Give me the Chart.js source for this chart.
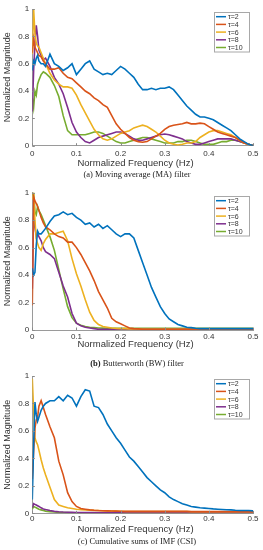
<!DOCTYPE html>
<html>
<head>
<meta charset="utf-8">
<script src="https://cdn.jsdelivr.net/npm/chart.js@4.4.0/dist/chart.umd.min.js"></script>
<style>
    body { margin: 0; background: #fff; width: 263px; height: 550px; position: relative; overflow: hidden; }
    canvas { position: absolute; left: 0; }
    .cap { position: absolute; left: 0; width: 274px; text-align: center; line-height: 10px;
           font-family: "Liberation Serif", "Times New Roman", serif; font-size: 8.5px; color: #222; }
</style>
</head>
<body>
<canvas id="chartMA" width="263" height="170" style="top:0px"></canvas>
<div class="cap" id="capMA" style="top:169px"></div>
<canvas id="chartBW" width="263" height="170" style="top:180px"></canvas>
<div class="cap" id="capBW" style="top:357.7px"></div>
<canvas id="chartCS" width="263" height="170" style="top:365px"></canvas>
<div class="cap" id="capCS" style="top:535.7px"></div>
<script>
"use strict";

/* normalized frequency (Hz), shared by every curve */
var freq = [0, 0.003, 0.006, 0.009, 0.012, 0.015, 0.02, 0.025,
    0.03, 0.04, 0.05, 0.06, 0.07, 0.08, 0.09, 0.1, 0.11, 0.12, 0.13, 0.14, 0.15, 0.16,
    0.17, 0.18, 0.19, 0.2, 0.21, 0.22, 0.23, 0.24, 0.25, 0.26, 0.27, 0.28, 0.29, 0.3,
    0.31, 0.32, 0.33, 0.34, 0.35, 0.36, 0.37, 0.38, 0.39, 0.4, 0.41, 0.42, 0.43, 0.44,
    0.45, 0.46, 0.47, 0.48, 0.49, 0.5];

var tauLabels = ['τ=2', 'τ=4', 'τ=6', 'τ=8', 'τ=10'];
var captionTags = ['(a)', '(b)', '(c)'];
var captions = ['Moving average (MA) filter', 'Butterworth (BW) filter', 'Cumulative sums of IMF (CSI)'];
var xTitle = 'Normalized Frequency (Hz)';
var yTitle = 'Normalized Magnitude';

/* (a) moving average */
var maT2 = [0.55, 0.62, 0.6, 0.64, 0.66, 0.62, 0.6, 0.6,
    0.58, 0.67, 0.6, 0.58, 0.55, 0.57, 0.6, 0.52, 0.56, 0.6, 0.62, 0.56, 0.54, 0.52, 0.53, 0.52,
    0.55, 0.58, 0.56, 0.53, 0.5, 0.45, 0.41, 0.41, 0.42, 0.41, 0.42, 0.42, 0.43, 0.41, 0.37, 0.33,
    0.29, 0.26, 0.23, 0.21, 0.21, 0.2, 0.19, 0.17, 0.15, 0.13, 0.11, 0.08, 0.05, 0.03, 0.01, 0];
var maT4 = [0.68, 0.78, 0.72, 0.7, 0.68, 0.66, 0.65, 0.62,
    0.6, 0.56, 0.56, 0.57, 0.53, 0.5, 0.49, 0.46, 0.43, 0.4, 0.38, 0.35, 0.33, 0.3, 0.28, 0.22,
    0.16, 0.12, 0.09, 0.06, 0.04, 0.03, 0.025, 0.03, 0.05, 0.07, 0.09, 0.12, 0.14, 0.15, 0.155, 0.16,
    0.17, 0.16, 0.16, 0.165, 0.16, 0.14, 0.12, 0.1, 0.09, 0.08, 0.07, 0.06, 0.04, 0.02, 0.01, 0];
var maT6 = [0.67, 1.0, 0.82, 0.75, 0.73, 0.72, 0.68, 0.64,
    0.6, 0.53, 0.48, 0.45, 0.43, 0.43, 0.42, 0.37, 0.3, 0.24, 0.18, 0.12, 0.08, 0.05, 0.04, 0.05,
    0.07, 0.09, 0.1, 0.11, 0.13, 0.14, 0.15, 0.14, 0.12, 0.1, 0.07, 0.04, 0.02, 0.01, 0.005, 0.01,
    0.02, 0.02, 0.03, 0.06, 0.08, 0.1, 0.11, 0.11, 0.1, 0.09, 0.08, 0.06, 0.04, 0.02, 0.01, 0];
var maT8 = [0.25, 0.55, 0.75, 0.88, 0.8, 0.7, 0.66, 0.63,
    0.64, 0.58, 0.5, 0.45, 0.38, 0.28, 0.17, 0.1, 0.06, 0.03, 0.02, 0.04, 0.06, 0.07, 0.08, 0.09,
    0.1, 0.1, 0.09, 0.07, 0.05, 0.04, 0.04, 0.05, 0.06, 0.07, 0.08, 0.085, 0.08, 0.07, 0.06, 0.05,
    0.03, 0.02, 0.01, 0.01, 0.02, 0.03, 0.04, 0.05, 0.05, 0.05, 0.05, 0.04, 0.03, 0.02, 0.01, 0];
var maT10 = [0.35, 0.28, 0.4, 0.37, 0.45, 0.48, 0.52, 0.54,
    0.53, 0.5, 0.44, 0.36, 0.22, 0.11, 0.08, 0.08, 0.08, 0.08, 0.09, 0.1, 0.1, 0.09, 0.07, 0.05,
    0.03, 0.02, 0.02, 0.03, 0.04, 0.05, 0.06, 0.06, 0.05, 0.04, 0.03, 0.02, 0.02, 0.02, 0.03, 0.03,
    0.04, 0.04, 0.03, 0.02, 0.01, 0.01, 0.01, 0.02, 0.03, 0.03, 0.04, 0.04, 0.03, 0.02, 0.01, 0];

/* (b) butterworth */
var bwT2 = [0.45, 0.4, 0.42, 0.62, 0.72, 0.7, 0.7, 0.72,
    0.74, 0.79, 0.83, 0.84, 0.86, 0.84, 0.85, 0.82, 0.8, 0.77, 0.78, 0.75, 0.77, 0.74, 0.76, 0.73,
    0.7, 0.68, 0.7, 0.7, 0.67, 0.58, 0.49, 0.4, 0.31, 0.24, 0.17, 0.12, 0.08, 0.06, 0.04, 0.03,
    0.02, 0.017, 0.013, 0.01, 0.01, 0.01, 0.01, 0.01, 0.01, 0.01, 0.01, 0.01, 0.01, 0.01, 0.01, 0.01];
var bwT4 = [0.18, 0.97, 0.94, 0.92, 0.9, 0.87, 0.82, 0.78,
    0.75, 0.73, 0.7, 0.68, 0.67, 0.64, 0.64, 0.6, 0.55, 0.49, 0.43, 0.36, 0.28, 0.22, 0.16, 0.085,
    0.06, 0.045, 0.03, 0.015, 0.01, 0.008, 0.005, 0.005, 0.005, 0.005, 0.005, 0.005, 0.005, 0.005, 0.005, 0.005,
    0.005, 0.005, 0.005, 0.005, 0.005, 0.005, 0.005, 0.005, 0.005, 0.005, 0.005, 0.005, 0.005, 0.005, 0.005, 0.005];
var bwT6 = [0.95, 1.0, 0.8, 0.66, 0.63, 0.6, 0.58, 0.63,
    0.66, 0.7, 0.7, 0.71, 0.72, 0.65, 0.52, 0.41, 0.32, 0.22, 0.13, 0.07, 0.04, 0.025, 0.02, 0.015,
    0.012, 0.01, 0.01, 0.008, 0.008, 0.007, 0.006, 0.006, 0.006, 0.006, 0.006, 0.006, 0.006, 0.006, 0.006, 0.006,
    0.006, 0.006, 0.006, 0.006, 0.006, 0.006, 0.006, 0.006, 0.006, 0.006, 0.006, 0.006, 0.006, 0.006, 0.006, 0.006];
var bwT8 = [0.3, 0.85, 0.75, 0.68, 0.7, 0.68, 0.65, 0.6,
    0.57, 0.55, 0.52, 0.42, 0.32, 0.24, 0.12, 0.05, 0.03, 0.02, 0.015, 0.01, 0.005, 0.005, 0.005, 0.005,
    0.005, 0.005, 0.005, 0.005, 0.005, 0.005, 0.005, 0.005, 0.005, 0.005, 0.005, 0.005, 0.005, 0.005, 0.005, 0.005,
    0.005, 0.005, 0.005, 0.005, 0.005, 0.005, 0.005, 0.005, 0.005, 0.005, 0.005, 0.005, 0.005, 0.005, 0.005, 0.005];
var bwT10 = [0.98, 1.0, 0.86, 0.84, 0.9, 0.87, 0.84, 0.8,
    0.76, 0.68, 0.58, 0.44, 0.3, 0.17, 0.09, 0.05, 0.035, 0.025, 0.02, 0.018, 0.015, 0.014, 0.013, 0.012,
    0.012, 0.012, 0.012, 0.012, 0.012, 0.012, 0.012, 0.012, 0.012, 0.012, 0.012, 0.012, 0.012, 0.012, 0.012, 0.012,
    0.012, 0.012, 0.012, 0.012, 0.012, 0.012, 0.012, 0.012, 0.012, 0.012, 0.012, 0.012, 0.012, 0.012, 0.012, 0.012];

/* (c) cumulative sums of IMF */
var csT2 = [0.1, 0.5, 0.81, 0.72, 0.67, 0.7, 0.75, 0.78,
    0.8, 0.82, 0.82, 0.85, 0.82, 0.86, 0.84, 0.78, 0.85, 0.9, 0.89, 0.78, 0.77, 0.72, 0.65, 0.6,
    0.55, 0.51, 0.46, 0.41, 0.38, 0.34, 0.3, 0.26, 0.23, 0.2, 0.17, 0.15, 0.12, 0.1, 0.085, 0.07,
    0.06, 0.05, 0.045, 0.04, 0.038, 0.035, 0.032, 0.03, 0.028, 0.026, 0.025, 0.022, 0.02, 0.02, 0.02, 0.018];
var csT4 = [0.25, 0.45, 0.62, 0.68, 0.7, 0.78, 0.82, 0.77,
    0.72, 0.63, 0.55, 0.38, 0.28, 0.15, 0.085, 0.05, 0.035, 0.03, 0.025, 0.022, 0.02, 0.019, 0.018, 0.017,
    0.016, 0.015, 0.014, 0.014, 0.014, 0.014, 0.014, 0.014, 0.014, 0.014, 0.014, 0.014, 0.014, 0.014, 0.014, 0.014,
    0.014, 0.012, 0.012, 0.012, 0.012, 0.012, 0.012, 0.012, 0.012, 0.012, 0.012, 0.012, 0.012, 0.012, 0.012, 0.012];
var csT6 = [0.98, 0.75, 0.55, 0.52, 0.5, 0.46, 0.39, 0.33,
    0.28, 0.19, 0.1, 0.06, 0.05, 0.04, 0.035, 0.03, 0.027, 0.025, 0.023, 0.021, 0.02, 0.019, 0.018, 0.017,
    0.016, 0.015, 0.013, 0.013, 0.013, 0.013, 0.013, 0.013, 0.013, 0.013, 0.013, 0.013, 0.013, 0.013, 0.013, 0.013,
    0.013, 0.011, 0.011, 0.011, 0.011, 0.011, 0.011, 0.011, 0.011, 0.011, 0.011, 0.011, 0.011, 0.011, 0.011, 0.011];
var csT8 = [0.04, 0.07, 0.065, 0.06, 0.055, 0.05, 0.04, 0.032,
    0.027, 0.02, 0.014, 0.011, 0.009, 0.008, 0.007, 0.006, 0.005, 0.005, 0.005, 0.005, 0.005, 0.005, 0.005, 0.005,
    0.005, 0.005, 0.005, 0.005, 0.005, 0.005, 0.005, 0.005, 0.005, 0.005, 0.005, 0.005, 0.005, 0.005, 0.005, 0.005,
    0.005, 0.005, 0.005, 0.005, 0.005, 0.005, 0.005, 0.005, 0.005, 0.005, 0.005, 0.005, 0.005, 0.005, 0.005, 0.005];
var csT10 = [0.03, 0.05, 0.045, 0.04, 0.035, 0.03, 0.025, 0.02,
    0.016, 0.012, 0.009, 0.007, 0.006, 0.005, 0.004, 0.004, 0.004, 0.004, 0.004, 0.004, 0.004, 0.004, 0.004, 0.004,
    0.004, 0.004, 0.004, 0.004, 0.004, 0.004, 0.004, 0.004, 0.004, 0.004, 0.004, 0.004, 0.004, 0.004, 0.004, 0.004,
    0.004, 0.004, 0.004, 0.004, 0.004, 0.004, 0.004, 0.004, 0.004, 0.004, 0.004, 0.004, 0.004, 0.004, 0.004, 0.004];

/* matlab default line colours */
var colors = ['#0072BD', '#D95319', '#EDB120', '#7E2F8E', '#77AC30'];
var fontFamily = '"Liberation Sans", Arial, Helvetica, sans-serif';

/* matlab prints 0, 0.2 ... 1 (no trailing zeros) */
function tickText(v) {
    return String(Math.round(v * 100) / 100);
}

/* inward tick marks, x label (sits a bit left of centre), boxed legend */
var matlabLook = {
    id: 'matlabLook',
    afterDraw: function (chart, args, opts) {
        var ctx = chart.ctx;
        var area = chart.chartArea;
        var xs = chart.scales.x, ys = chart.scales.y;
        ctx.save();
        ctx.strokeStyle = '#8a8a8a';
        ctx.lineWidth = 1;
        ctx.beginPath();
        xs.ticks.forEach(function (t) {
            var px = Math.round(xs.getPixelForValue(t.value)) + 0.5;
            ctx.moveTo(px, area.bottom);
            ctx.lineTo(px, area.bottom - 2.5);
        });
        ys.ticks.forEach(function (t) {
            var py = Math.round(ys.getPixelForValue(t.value)) + 0.5;
            ctx.moveTo(area.left, py);
            ctx.lineTo(area.left + 2.5, py);
        });
        ctx.stroke();

        ctx.fillStyle = '#333';
        ctx.font = '9.5px ' + fontFamily;
        ctx.textAlign = 'center';
        ctx.textBaseline = 'middle';
        ctx.fillText(xTitle, 135.5, opts.titleY);

        // legend
        var bx = 214.5, by = Math.round(area.top + 3) + 0.5, bw = 35, bh = 39.5;
        ctx.fillStyle = '#fff';
        ctx.fillRect(bx, by, bw, bh);
        ctx.strokeStyle = '#a8a8a8';
        ctx.strokeRect(bx, by, bw, bh);
        ctx.font = '7px ' + fontFamily;
        ctx.textAlign = 'left';
        chart.data.datasets.forEach(function (ds, i) {
            var ly = by + 4.2 + i * 7.7;
            ctx.strokeStyle = ds.borderColor;
            ctx.lineWidth = 1.5;
            ctx.beginPath();
            ctx.moveTo(bx + 1.5, ly);
            ctx.lineTo(bx + 11.5, ly);
            ctx.stroke();
            ctx.fillStyle = '#333';
            ctx.fillText(ds.label, bx + 13.5, ly + 0.5);
        });
        ctx.restore();
    }
};

function makePanel(id, series, g) {
    var datasets = series.map(function (vals, i) {
        return {
            label: tauLabels[i],
            data: freq.map(function (f, k) { return { x: f, y: vals[k] }; }),
            borderColor: colors[i],
            borderWidth: 1.6,
            pointRadius: 0,
            tension: 0,
            fill: false
        };
    });
    return new Chart(document.getElementById(id).getContext('2d'), {
        type: 'line',
        data: { datasets: datasets },
        plugins: [matlabLook],
        options: {
            responsive: false,
            animation: false,
            devicePixelRatio: 1,
            layout: { padding: { top: g.top, right: 10, left: 0, bottom: 0 } },
            plugins: { legend: { display: false }, tooltip: { enabled: false }, matlabLook: { titleY: g.titleY } },
            scales: {
                x: {
                    type: 'linear',
                    min: 0,
                    max: 0.5,
                    grid: { display: false, drawTicks: false },
                    border: { display: true, color: '#9a9a9a', width: 1 },
                    ticks: { stepSize: 0.1, padding: g.tickPad, color: '#333', font: { family: fontFamily, size: 8 }, maxRotation: 0, callback: tickText },
                    afterFit: function (s) { s.height = g.xh; }
                },
                y: {
                    min: 0,
                    max: 1,
                    grid: { display: false, drawTicks: false },
                    border: { display: true, color: '#9a9a9a', width: 1 },
                    ticks: { stepSize: 0.2, padding: 3, color: '#333', font: { family: fontFamily, size: 8 }, callback: tickText },
                    title: { display: true, text: yTitle, color: '#333', padding: { top: 2, bottom: 0 }, font: { family: fontFamily, size: 9 } },
                    afterFit: function (s) { s.width = 32.3; }
                }
            }
        }
    });
}

function fillCaption(id, i) {
    var el = document.getElementById(id);
    var tag = document.createElement(i === 1 ? 'b' : 'span');
    tag.textContent = captionTags[i];
    el.appendChild(tag);
    el.appendChild(document.createTextNode(' ' + captions[i]));
}

document.addEventListener("DOMContentLoaded", function () {
    makePanel('chartMA', [maT2, maT4, maT6, maT8, maT10], { top: 9, xh: 24.3, tickPad: 3, titleY: 163.3 });
    makePanel('chartBW', [bwT2, bwT4, bwT6, bwT8, bwT10], { top: 12.7, xh: 20, tickPad: 2, titleY: 164 });
    makePanel('chartCS', [csT2, csT4, csT6, csT8, csT10], { top: 11, xh: 21.7, tickPad: 1, titleY: 164 });
    fillCaption('capMA', 0);
    fillCaption('capBW', 1);
    fillCaption('capCS', 2);
});
</script>
</body>
</html>
